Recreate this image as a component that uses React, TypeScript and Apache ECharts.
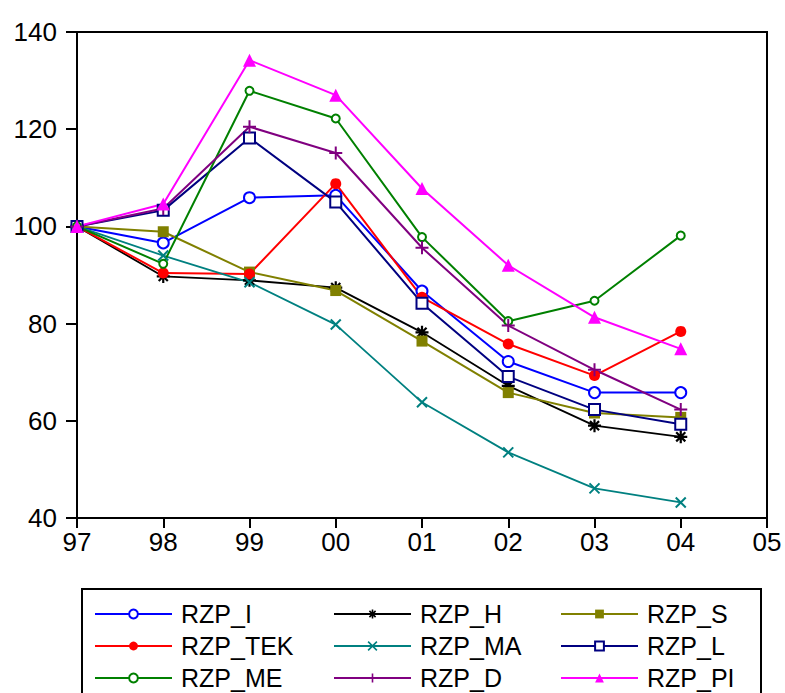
import React, { useEffect, useRef } from "react";
import * as echarts from "echarts";

const years = ["97", "98", "99", "00", "01", "02", "03", "04", "05"];
const yTicks = { min: 40, max: 140, interval: 20 };

const rzpI = [100, 96.6, 105.9, 106.4, 86.7, 72.2, 65.8, 65.8];
const rzpH = [100, 89.7, 88.9, 87.4, 78.2, 67.2, 59.0, 56.7];
const rzpS = [100, 98.9, 90.6, 86.8, 76.4, 65.8, 61.6, 60.7];
const rzpTEK = [100, 90.4, 90.2, 108.8, 85.4, 75.8, 69.3, 78.4];
const rzpMA = [100, 94.0, 88.5, 79.8, 63.8, 53.5, 46.1, 43.2];
const rzpL = [100, 103.3, 118.2, 105.0, 84.2, 69.1, 62.3, 59.3];
const rzpME = [100, 92.3, 127.9, 122.2, 97.8, 80.5, 84.7, 98.1];
const rzpD = [100, 103.7, 120.5, 115.1, 95.6, 79.6, 70.5, 62.3];
const rzpPI = [100, 104.6, 134.2, 127.0, 107.8, 92.0, 81.3, 74.8];

// legend grid: rows x columns (row-major, as in the reference)
const legendRows = [
  ["RZP_I", "RZP_H", "RZP_S"],
  ["RZP_TEK", "RZP_MA", "RZP_L"],
  ["RZP_ME", "RZP_D", "RZP_PI"],
];

const ASTERISK = "path://M5 0L5 10M0 5L10 5M1.5 1.5L8.5 8.5M8.5 1.5L1.5 8.5";
const XMARK = "path://M0 0L10 10M10 0L0 10";
const PLUS = "path://M5 0L5 10M0 5L10 5";

const FONT = "'Liberation Sans', Arial, sans-serif";

export default function App() {
  const ref = useRef<HTMLDivElement>(null);
  useEffect(() => {
    if (!ref.current) return;
    const chart = echarts.init(ref.current, undefined, { renderer: "svg" });

    const specs: any[] = [
      { name: "RZP_I", data: rzpI, color: "#0000FF", symbol: "emptyCircle", size: 11, bw: 2, lw: 2 },
      { name: "RZP_H", data: rzpH, color: "#000000", symbol: ASTERISK, size: 13, bw: 2.2, lw: 1.8, stroke: true },
      { name: "RZP_S", data: rzpS, color: "#808000", symbol: "rect", size: 11, bw: 0, lw: 2 },
      { name: "RZP_TEK", data: rzpTEK, color: "#FF0000", symbol: "circle", size: 11, bw: 0, lw: 2 },
      { name: "RZP_MA", data: rzpMA, color: "#008080", symbol: XMARK, size: 10, bw: 2, lw: 1.8, stroke: true },
      { name: "RZP_L", data: rzpL, color: "#000080", symbol: "emptyRect", size: 11, bw: 2, lw: 2 },
      { name: "RZP_ME", data: rzpME, color: "#008000", symbol: "emptyCircle", size: 8, bw: 2, lw: 2 },
      { name: "RZP_D", data: rzpD, color: "#800080", symbol: PLUS, size: 13, bw: 2, lw: 2, stroke: true },
      { name: "RZP_PI", data: rzpPI, color: "#FF00FF", symbol: "triangle", size: 13, bw: 0, lw: 2 },
    ];

    const series = specs.map((s) => ({
      name: s.name,
      type: "line",
      data: s.data,
      symbol: s.symbol,
      symbolSize: s.size,
      showAllSymbol: true,
      lineStyle: { color: s.color, width: s.lw },
      itemStyle: { color: s.color, borderColor: s.color, borderWidth: s.bw },
      emphasis: { disabled: true },
    }));

    const specByName: any = {};
    specs.forEach((s) => (specByName[s.name] = s));

    const colLefts = [94, 333, 560];
    const rowCenters = [614, 646, 678];
    const legendFont = 25;
    const legends: any[] = [];
    legendRows.forEach((row, r) => {
      row.forEach((n, c) => {
        const s = specByName[n];
        legends.push({
          orient: "horizontal",
          left: colLefts[c],
          top: rowCenters[r] - legendFont / 2,
          padding: 0,
          itemWidth: 77,
          itemHeight: 11,
          selectedMode: false,
          textStyle: { fontSize: legendFont, color: "#000", fontFamily: FONT, padding: [0, 0, 0, 4] },
          data: [
            {
              name: n,
              itemStyle: {
                color: s.color,
                borderColor: s.color,
                borderWidth: s.stroke ? 1.6 : s.bw ? 2 : 0,
              },
            },
          ],
        });
      });
    });

    chart.setOption({
      animation: false,
      backgroundColor: "#fff",
      grid: {
        left: 77,
        top: 32,
        width: 690,
        height: 486,
        show: true,
        borderColor: "#000",
        borderWidth: 2,
        backgroundColor: "transparent",
      },
      xAxis: {
        type: "category",
        data: years,
        boundaryGap: false,
        axisLine: { show: true, lineStyle: { color: "#000", width: 2 } },
        axisTick: { show: true, length: 10, interval: 0, lineStyle: { color: "#000", width: 2 } },
        axisLabel: { interval: 0, fontSize: 26, color: "#000", fontFamily: FONT, margin: 11 },
        splitLine: { show: false },
      },
      yAxis: {
        type: "value",
        min: yTicks.min,
        max: yTicks.max,
        interval: yTicks.interval,
        axisLine: { show: true, lineStyle: { color: "#000", width: 2 } },
        axisTick: { show: true, length: 11, lineStyle: { color: "#000", width: 2 } },
        axisLabel: { fontSize: 26, color: "#000", fontFamily: FONT, margin: 20 },
        splitLine: { show: false },
      },
      legend: legends,
      graphic: [
        {
          type: "rect",
          shape: { x: 82, y: 589, width: 679, height: 120 },
          style: { fill: "none", stroke: "#000", lineWidth: 2 },
          silent: true,
        },
      ],
      series,
    });
    return () => chart.dispose();
  }, []);
  return <div ref={ref} style={{ width: 785, height: 693, position: "absolute", left: 0, top: 0 }} />;
}
